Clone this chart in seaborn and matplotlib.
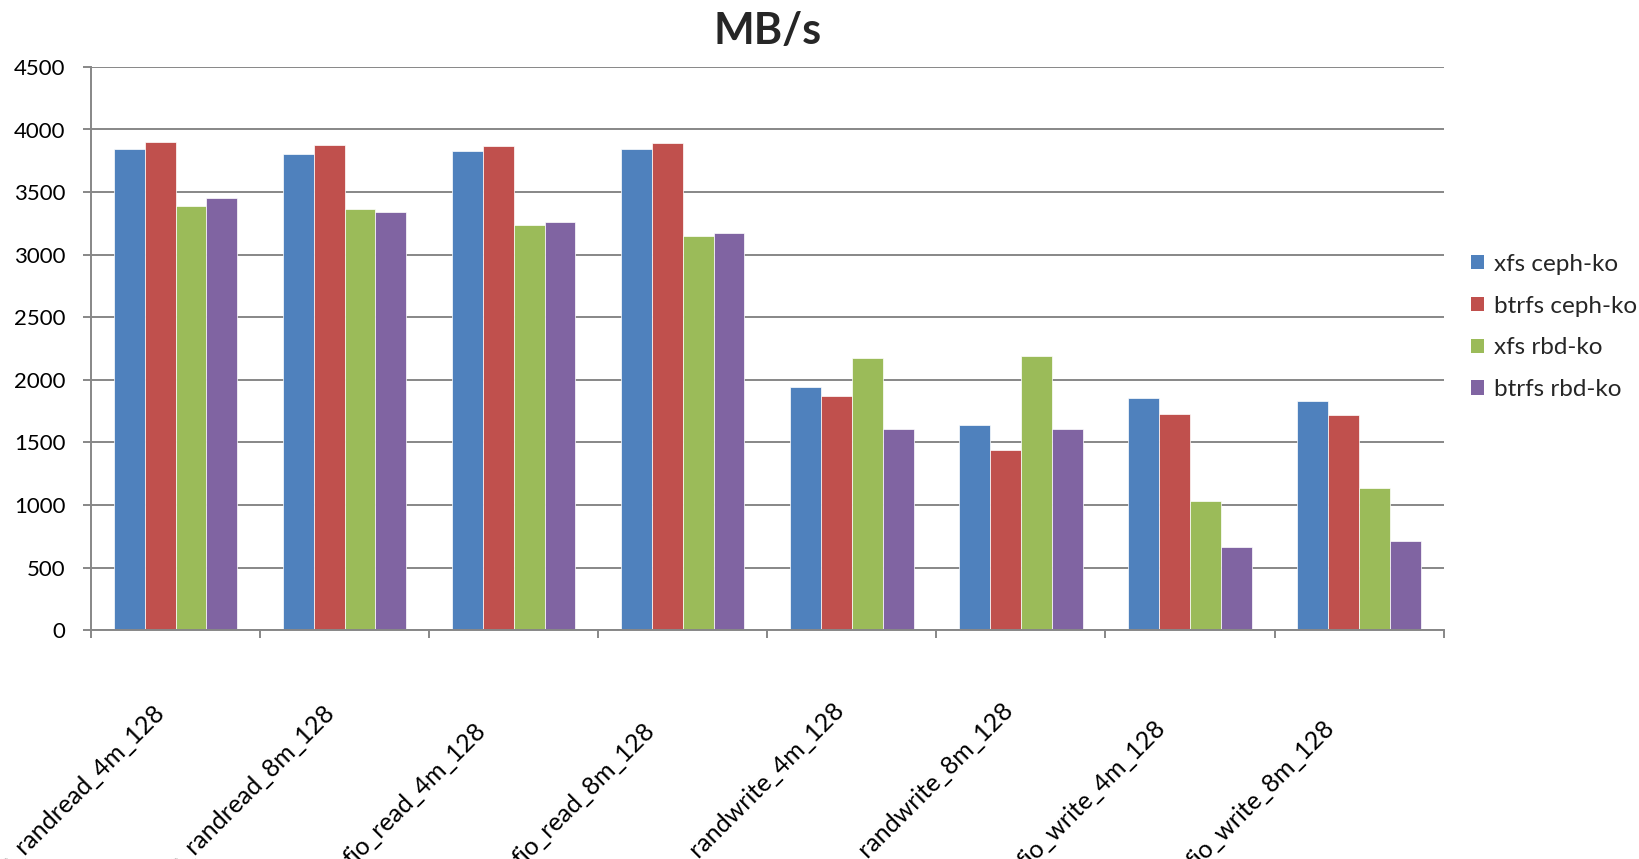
import matplotlib
matplotlib.use("Agg")
import matplotlib.pyplot as plt
from matplotlib.patches import Patch
from matplotlib.transforms import ScaledTranslation
from matplotlib.ticker import FixedLocator, NullFormatter
import seaborn as sns
import pandas as pd

# Benchmark cases and throughput (MB/s) per filesystem / client combination
tests = ["fio_randread_4m_128", "fio_randread_8m_128", "fio_read_4m_128", "fio_read_8m_128",
         "fio_randwrite_4m_128", "fio_randwrite_8m_128", "fio_write_4m_128", "fio_write_8m_128"]
series_names = ["xfs ceph-ko", "btrfs ceph-ko", "xfs rbd-ko", "btrfs rbd-ko"]
xfs_ceph_ko = [3842, 3807, 3828, 3847, 1944, 1637, 1853, 1835]
btrfs_ceph_ko = [3898, 3876, 3871, 3896, 1875, 1439, 1731, 1720]
xfs_rbd_ko = [3392, 3365, 3237, 3153, 2171, 2192, 1034, 1140]
btrfs_rbd_ko = [3456, 3344, 3262, 3170, 1610, 1605, 667, 710]
colors = ["#4F81BD", "#C0504D", "#9BBB59", "#8064A2"]
y_ticks = list(range(0, 4501, 500))

rows = []
for name, vals in zip(series_names, [xfs_ceph_ko, btrfs_ceph_ko, xfs_rbd_ko, btrfs_rbd_ko]):
    for t, v in zip(tests, vals):
        rows.append({"test": t, "fs": name, "MBps": v})
df = pd.DataFrame(rows)

sns.set_style("white")
plt.rcParams["font.family"] = ["Lato", "DejaVu Sans"]

W, H = 1639, 859
fig = plt.figure(figsize=(W / 100, H / 100), dpi=100)
ax = fig.add_axes([91 / W, 1 - 630.3 / H, (1443.6 - 91) / W, (630.3 - 66.9) / H])

sns.barplot(data=df, x="test", y="MBps", hue="fs", order=tests, hue_order=series_names,
            palette=colors, saturation=1, width=0.73, gap=0, ax=ax,
            edgecolor="white", linewidth=0.5, legend=False, errorbar=None)

grid_c = "#878787"
ax.set_xlim(-0.5, len(tests) - 0.5)
ax.set_ylim(0, 4500)
ax.set_yticks(y_ticks)
ax.yaxis.grid(True, color=grid_c, linewidth=1.4)
ax.set_axisbelow(True)
for s in ["top", "right"]:
    ax.spines[s].set_visible(False)
for s in ["left", "bottom"]:
    ax.spines[s].set_color(grid_c)
    ax.spines[s].set_linewidth(1.4)
ax.set_xlabel("")
ax.set_ylabel("")

ax.tick_params(axis="y", which="major", direction="out", length=6, width=1.4,
               color=grid_c, pad=12.5, labelsize=16, labelcolor="black", left=True)

# Tick marks between categories, labels at category centers
ax.xaxis.set_major_locator(FixedLocator([i - 0.5 for i in range(len(tests) + 1)]))
ax.xaxis.set_major_formatter(NullFormatter())
ax.xaxis.set_minor_locator(FixedLocator(list(range(len(tests)))))
ax.set_xticklabels(tests, minor=True)
ax.tick_params(axis="x", which="major", direction="out", length=6, width=1.4,
               color=grid_c, bottom=True)
ax.tick_params(axis="x", which="minor", length=0, pad=0, labelsize=18, labelcolor="black")
shift = ScaledTranslation(-99 / 100, -164 / 100, fig.dpi_scale_trans)
for lab in ax.get_xticklabels(minor=True):
    lab.set_rotation(45)
    lab.set_rotation_mode("anchor")
    lab.set_ha("center")
    lab.set_va("center")
    lab.set_transform(lab.get_transform() + shift)

fig.text((91 + 1443.6) / 2 / W, 1 - 31 / H, "MB/s", ha="center", va="center",
         fontsize=31, fontweight="bold")

handles = [Patch(facecolor=c, edgecolor="none", label=n) for c, n in zip(colors, series_names)]
fig.legend(handles=handles, loc="center left", bbox_to_anchor=(1471 / W, 1 - 327 / H),
           frameon=False, fontsize=17.5, handlelength=0.55, handleheight=0.55,
           handletextpad=0.4, labelspacing=0.86, borderpad=0, borderaxespad=0)

fig.savefig("out.png", dpi=100)
